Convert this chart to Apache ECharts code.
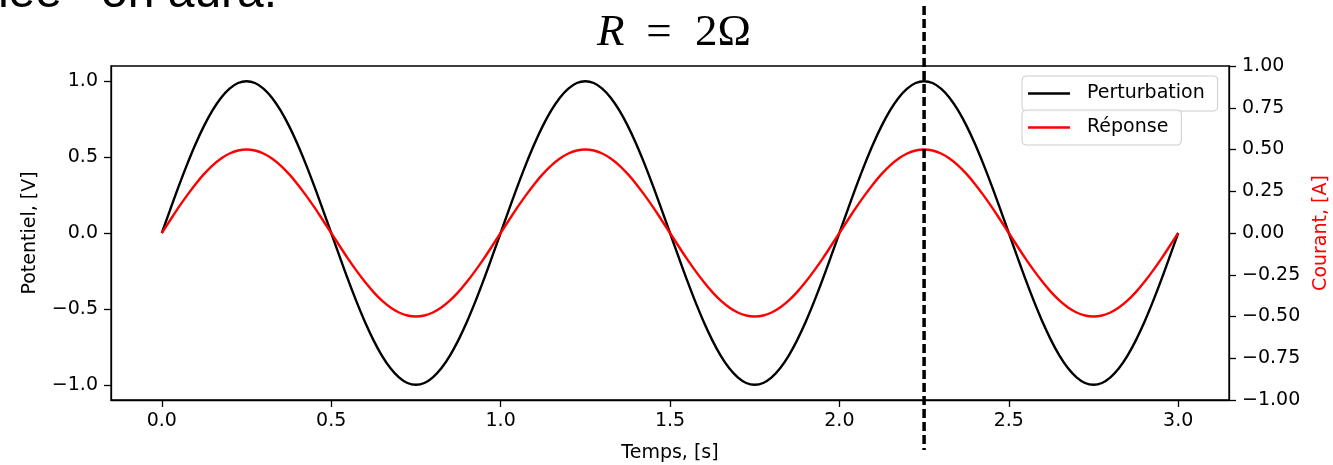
<!DOCTYPE html>
<html>
<head>
<meta charset="utf-8">
<script src="https://cdn.jsdelivr.net/npm/echarts@6/dist/echarts.min.js"></script>
<style>
  html, body { margin: 0; padding: 0; background: #ffffff; }
  #chart { width: 1333px; height: 465px; }
</style>
</head>
<body>
<div id="chart"></div>
<script>
// Sample times, in seconds
const times = [
  0, 0.025, 0.05, 0.075, 0.1, 0.125, 0.15, 0.175, 0.2, 0.225,
  0.25, 0.275, 0.3, 0.325, 0.35, 0.375, 0.4, 0.425, 0.45, 0.475,
  0.5, 0.525, 0.55, 0.575, 0.6, 0.625, 0.65, 0.675, 0.7, 0.725,
  0.75, 0.775, 0.8, 0.825, 0.85, 0.875, 0.9, 0.925, 0.95, 0.975,
  1, 1.025, 1.05, 1.075, 1.1, 1.125, 1.15, 1.175, 1.2, 1.225,
  1.25, 1.275, 1.3, 1.325, 1.35, 1.375, 1.4, 1.425, 1.45, 1.475,
  1.5, 1.525, 1.55, 1.575, 1.6, 1.625, 1.65, 1.675, 1.7, 1.725,
  1.75, 1.775, 1.8, 1.825, 1.85, 1.875, 1.9, 1.925, 1.95, 1.975,
  2, 2.025, 2.05, 2.075, 2.1, 2.125, 2.15, 2.175, 2.2, 2.225,
  2.25, 2.275, 2.3, 2.325, 2.35, 2.375, 2.4, 2.425, 2.45, 2.475,
  2.5, 2.525, 2.55, 2.575, 2.6, 2.625, 2.65, 2.675, 2.7, 2.725,
  2.75, 2.775, 2.8, 2.825, 2.85, 2.875, 2.9, 2.925, 2.95, 2.975,
  3
];

// Applied potential, in volts (left axis)
const perturbation = [
  0, 0.156, 0.309, 0.454, 0.588, 0.707, 0.809, 0.891, 0.951, 0.988,
  1, 0.988, 0.951, 0.891, 0.809, 0.707, 0.588, 0.454, 0.309, 0.156,
  0, -0.156, -0.309, -0.454, -0.588, -0.707, -0.809, -0.891, -0.951, -0.988,
  -1, -0.988, -0.951, -0.891, -0.809, -0.707, -0.588, -0.454, -0.309, -0.156,
  0, 0.156, 0.309, 0.454, 0.588, 0.707, 0.809, 0.891, 0.951, 0.988,
  1, 0.988, 0.951, 0.891, 0.809, 0.707, 0.588, 0.454, 0.309, 0.156,
  0, -0.156, -0.309, -0.454, -0.588, -0.707, -0.809, -0.891, -0.951, -0.988,
  -1, -0.988, -0.951, -0.891, -0.809, -0.707, -0.588, -0.454, -0.309, -0.156,
  0, 0.156, 0.309, 0.454, 0.588, 0.707, 0.809, 0.891, 0.951, 0.988,
  1, 0.988, 0.951, 0.891, 0.809, 0.707, 0.588, 0.454, 0.309, 0.156,
  0, -0.156, -0.309, -0.454, -0.588, -0.707, -0.809, -0.891, -0.951, -0.988,
  -1, -0.988, -0.951, -0.891, -0.809, -0.707, -0.588, -0.454, -0.309, -0.156,
  0
];

// Measured current, in amperes (right axis)
const reponse = [
  0, 0.078, 0.155, 0.227, 0.294, 0.354, 0.405, 0.446, 0.476, 0.494,
  0.5, 0.494, 0.476, 0.446, 0.405, 0.354, 0.294, 0.227, 0.155, 0.078,
  0, -0.078, -0.155, -0.227, -0.294, -0.354, -0.405, -0.446, -0.476, -0.494,
  -0.5, -0.494, -0.476, -0.446, -0.405, -0.354, -0.294, -0.227, -0.155, -0.078,
  0, 0.078, 0.155, 0.227, 0.294, 0.354, 0.405, 0.446, 0.476, 0.494,
  0.5, 0.494, 0.476, 0.446, 0.405, 0.354, 0.294, 0.227, 0.155, 0.078,
  0, -0.078, -0.155, -0.227, -0.294, -0.354, -0.405, -0.446, -0.476, -0.494,
  -0.5, -0.494, -0.476, -0.446, -0.405, -0.354, -0.294, -0.227, -0.155, -0.078,
  0, 0.078, 0.155, 0.227, 0.294, 0.354, 0.405, 0.446, 0.476, 0.494,
  0.5, 0.494, 0.476, 0.446, 0.405, 0.354, 0.294, 0.227, 0.155, 0.078,
  0, -0.078, -0.155, -0.227, -0.294, -0.354, -0.405, -0.446, -0.476, -0.494,
  -0.5, -0.494, -0.476, -0.446, -0.405, -0.354, -0.294, -0.227, -0.155, -0.078,
  0
];

// Tick positions
const timeTicks = [0, 0.5, 1, 1.5, 2, 2.5, 3];
const potentialTicks = [-1, -0.5, 0, 0.5, 1];

// Instant marked by the vertical dashed cursor
const cursorTime = 2.25;

const FONT = 'DejaVu Sans';

function fmt(digits) {
  return function (v) {
    const s = Math.abs(v).toFixed(digits);
    return (v < -1e-9 ? '\u2212' : '') + s;
  };
}

const chart = echarts.init(document.getElementById('chart'), null, { renderer: 'canvas' });

const axisLine = { show: true, onZero: false, lineStyle: { color: '#000', width: 1.3 } };
const axisTick = { show: true, inside: false, length: 7, lineStyle: { color: '#000', width: 1.3 } };
const labelStyle = { color: '#000', fontFamily: FONT, fontSize: 19 };

const legendCommon = {
  orient: 'horizontal',
  left: 1022,
  itemWidth: 42,
  itemHeight: 2.5,
  padding: [8, 13, 8, 6],
  backgroundColor: 'rgba(255,255,255,0.8)',
  borderColor: '#cccccc',
  borderWidth: 1,
  borderRadius: 4,
  textStyle: { color: '#000', fontFamily: FONT, fontSize: 19, padding: [0, 0, 0, 12] },
  selectedMode: false
};

chart.setOption({
  animation: false,
  backgroundColor: '#ffffff',
  grid: {
    left: 111, right: 104, top: 66, bottom: 65,
    show: true, borderColor: '#000', borderWidth: 1.3, backgroundColor: 'transparent',
    outerBoundsMode: 'none'
  },
  legend: [
    Object.assign({}, legendCommon, { top: 76, z: 10, data: [{ name: 'Perturbation', icon: 'rect' }] }),
    Object.assign({}, legendCommon, { top: 110, z: 11, data: [{ name: 'Réponse', icon: 'rect' }] })
  ],
  xAxis: {
    type: 'value',
    min: -0.15, max: 3.15,
    name: 'Temps, [s]',
    nameLocation: 'middle',
    nameGap: 44,
    nameTextStyle: labelStyle,
    axisLine: axisLine,
    axisTick: Object.assign({}, axisTick, { customValues: timeTicks }),
    axisLabel: Object.assign({}, labelStyle, { margin: 12, customValues: timeTicks, formatter: fmt(1) }),
    splitLine: { show: false }
  },
  yAxis: [
    {
      type: 'value',
      position: 'left',
      min: -1.1, max: 1.1,
      name: 'Potentiel, [V]',
      nameLocation: 'middle',
      nameGap: 71,
      nameTextStyle: labelStyle,
      axisLine: axisLine,
      axisTick: Object.assign({}, axisTick, { customValues: potentialTicks }),
      axisLabel: Object.assign({}, labelStyle, { margin: 13, customValues: potentialTicks, formatter: fmt(1) }),
      splitLine: { show: false }
    },
    {
      type: 'value',
      position: 'right',
      min: -1, max: 1, interval: 0.25,
      name: 'Courant, [A]',
      nameLocation: 'middle',
      nameGap: 81,
      nameTextStyle: Object.assign({}, labelStyle, { color: '#ff0000' }),
      axisLine: axisLine,
      axisTick: axisTick,
      axisLabel: Object.assign({}, labelStyle, { margin: 13, formatter: fmt(2) }),
      splitLine: { show: false }
    }
  ],
  series: [
    {
      name: 'Perturbation',
      type: 'line',
      yAxisIndex: 0,
      data: times.map((t, i) => [t, perturbation[i]]),
      showSymbol: false,
      symbol: 'none',
      smooth: 0.35,
      color: '#000000',
      lineStyle: { color: '#000000', width: 2.4 },
      z: 3
    },
    {
      name: 'Réponse',
      type: 'line',
      yAxisIndex: 1,
      data: times.map((t, i) => [t, reponse[i]]),
      showSymbol: false,
      symbol: 'none',
      smooth: 0.35,
      color: '#ff0000',
      lineStyle: { color: '#ff0000', width: 2.4 },
      z: 4
    }
  ]
});

// Cursor line and slide texts around the plot
const cursorX = chart.convertToPixel({ xAxisIndex: 0 }, cursorTime);

chart.setOption({
  graphic: [
    {
      type: 'line',
      z: 50,
      shape: { x1: cursorX, y1: 6, x2: cursorX, y2: 450 },
      style: { stroke: '#000', lineWidth: 3.5, lineDash: [9, 4] }
    },
    {
      type: 'text', z: 50, x: 62, y: -6,
      style: { text: 'donnée', font: '48px "Liberation Sans"', fill: '#000', align: 'right', verticalAlign: 'middle' }
    },
    {
      type: 'text', z: 50, x: 101, y: -6,
      style: { text: 'on aura.', font: '48px "Liberation Sans"', fill: '#000', align: 'left', verticalAlign: 'middle' }
    },
    {
      type: 'text', z: 50, x: 597, y: 33,
      style: { text: 'R', font: 'italic 45px "Liberation Serif"', fill: '#000', align: 'left', verticalAlign: 'middle' }
    },
    {
      type: 'text', z: 50, x: 659, y: 33,
      style: { text: '=', font: '45px "Liberation Serif"', fill: '#000', align: 'center', verticalAlign: 'middle' }
    },
    {
      type: 'text', z: 50, x: 695, y: 33,
      style: { text: '2Ω', font: '45px "Liberation Serif"', fill: '#000', align: 'left', verticalAlign: 'middle' }
    }
  ]
});
</script>
</body>
</html>
